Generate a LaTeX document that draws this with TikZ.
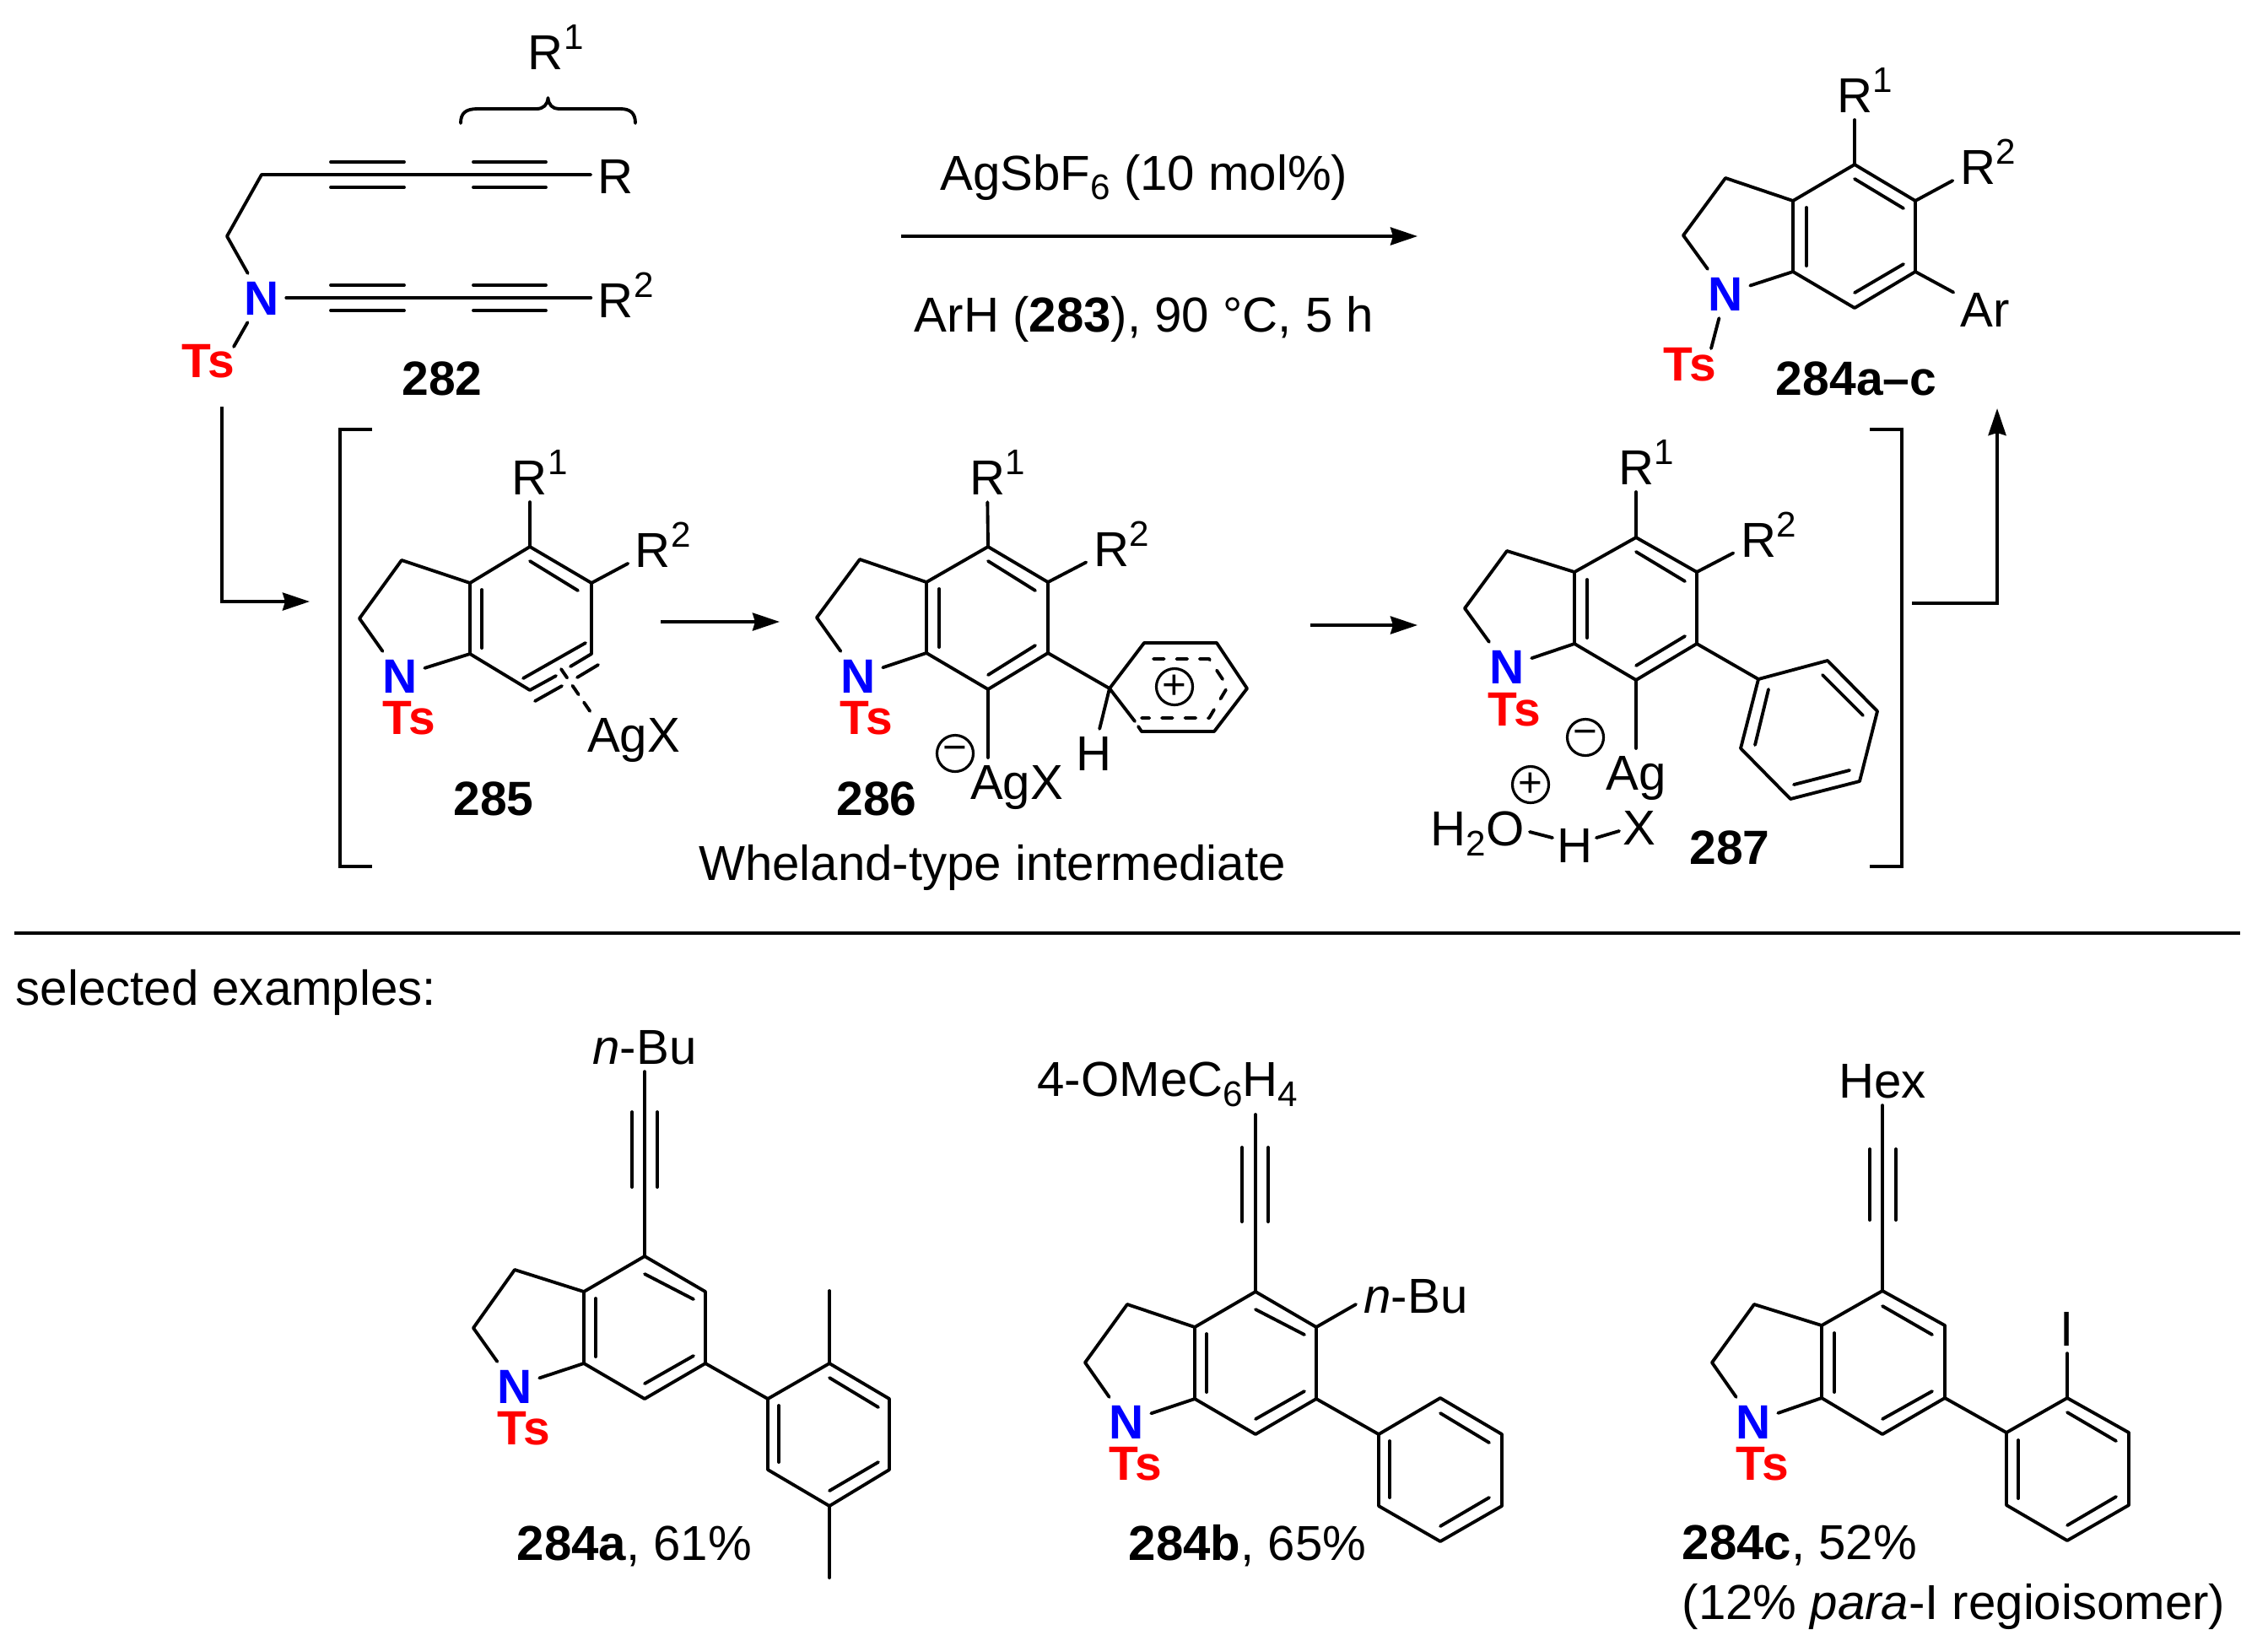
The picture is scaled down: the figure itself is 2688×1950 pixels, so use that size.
\documentclass[tikz,border=0pt]{standalone}
\usepackage{fontspec}
\setmainfont{Liberation Sans}
\usetikzlibrary{arrows.meta}
\newcommand{\chemsize}{\fontsize{16.55}{19}\selectfont}
\newcommand{\boldsize}{\fontsize{16.2}{19}\selectfont\bfseries}
\newcommand{\chemsup}[1]{\rlap{\raisebox{6.9pt}{\fontsize{12}{12}\selectfont #1}}}
\newcommand{\chemsub}[1]{\raisebox{-3.3pt}{\fontsize{12}{12}\selectfont #1}}
\tikzset{
  bond/.style={line width=1.1pt, line cap=round, line join=round},
  arr/.style={line width=1.1pt, -{Stealth[length=0.32cm, width=0.21cm, inset=0.03cm]}},
  atom/.style={inner sep=0.08cm, font=\chemsize, text height=11.6pt, text depth=0pt},
  nit/.style={atom, font=\boldsize, text=blue},
  tos/.style={atom, font=\boldsize, text=red},
  cmpd/.style={atom, font=\boldsize},
  txt/.style={inner sep=0pt, font=\chemsize, anchor=base},
  txtl/.style={inner sep=0pt, font=\chemsize, anchor=base west},
  chg/.style={circle, draw, line width=0.9pt, minimum size=0.43cm, inner sep=0pt, font=\fontsize{14}{14}\selectfont},
}
\begin{document}
\begin{tikzpicture}[x=0.01cm, y=-0.01cm]
\useasboundingbox (0,0) rectangle (2688,1950);
% diyne 282
\coordinate (m1) at (310,207);
\coordinate (m2) at (269,280);
\node[nit] (nm) at (310,353) {N};
\node[tos] (tsm) at (247,427) {Ts};
\coordinate (tbm) at (277,411);
\node[atom] (rm) at (730,209) {R};
\node[atom] (r2m) at (730,356) {R\chemsup{2}};
\node[atom] (r1m) at (647,62) {R\chemsup{1}};
\node[cmpd] (lm) at (524,448) {282};
\draw[bond] (m1 -| rm.west) -- (m1) -- (m2) -- (nm);
\draw[bond] (nm) -- (nm -| r2m.west);
\draw[bond] (nm) -- (tbm);
\coordinate (w1) at (392,192); \coordinate (w2) at (479,192);
\coordinate (w3) at (392,222); \coordinate (w4) at (479,222);
\coordinate (w5) at (561,192); \coordinate (w6) at (647,192);
\coordinate (w7) at (561,222); \coordinate (w8) at (647,222);
\draw[bond] (w1) -- (w2); \draw[bond] (w3) -- (w4);
\draw[bond] (w5) -- (w6); \draw[bond] (w7) -- (w8);
\coordinate (v1) at (392,338); \coordinate (v2) at (479,338);
\coordinate (v3) at (392,368); \coordinate (v4) at (479,368);
\coordinate (v5) at (561,338); \coordinate (v6) at (647,338);
\coordinate (v7) at (561,368); \coordinate (v8) at (647,368);
\draw[bond] (v1) -- (v2); \draw[bond] (v3) -- (v4);
\draw[bond] (v5) -- (v6); \draw[bond] (v7) -- (v8);
\draw[bond] (546,146) .. controls (546,134) and (552,129) .. (566,129) -- (636,129)
  .. controls (644,129) and (649,124) .. (649.5,116)
  .. controls (650,124) and (655,129) .. (662,129) -- (735,129)
  .. controls (747,129) and (753,134) .. (753,146);
% conditions
\coordinate (as) at (1068,280);
\coordinate (ae) at (1680,280);
\draw[arr] (as) -- (ae);
\node[txt] (cond1) at (1356,225) {AgSbF\chemsub{6} (10 mol\%)};
\node[txt] (cond2) at (1356,393) {ArH (\textbf{283}), 90 °C, 5 h};
% product 284
\coordinate (p1) at (2198,195);
\coordinate (p2) at (2270,238);
\coordinate (p3) at (2270,322);
\coordinate (p4) at (2198,365);
\coordinate (p5) at (2125,322);
\coordinate (p6) at (2125,238);
\coordinate (p7) at (2045,211);
\coordinate (p8) at (1995,279);
\node[nit] (np) at (2045,348) {N};
\node[tos] (tsp) at (2003,431) {Ts};
\coordinate (tbp) at (2028,413);
\node[atom] (r1p) at (2198,113) {R\chemsup{1}};
\node[atom] (r2p) at (2344,198) {R\chemsup{2}};
\node[atom] (arp) at (2353,367) {Ar};
\node[cmpd] (lp) at (2200,448) {284a–c};
\draw[bond] (np) -- (p8) -- (p7) -- (p6) -- (p1) -- (p2) -- (p3) -- (p4) -- (p5) -- (p6);
\draw[bond] (p5) -- (np);
\draw[bond] (np) -- (tbp);
\draw[bond] (p1) -- (r1p);
\draw[bond] (p2) -- (r2p);
\draw[bond] (p3) -- (arp);
\coordinate (pi1) at (2141,246); \coordinate (pi2) at (2141,315);
\coordinate (pi3) at (2198,212); \coordinate (pi4) at (2256,247);
\coordinate (pi5) at (2198,347); \coordinate (pi6) at (2256,313);
\draw[bond] (pi1) -- (pi2); \draw[bond] (pi3) -- (pi4); \draw[bond] (pi5) -- (pi6);
% arrow into brackets
\coordinate (bs) at (263,482);
\coordinate (be) at (367,713);
\draw[arr] (bs) |- (be);
\coordinate (bl1) at (441,509); \coordinate (bl2) at (403,509);
\coordinate (bl3) at (403,1027); \coordinate (bl4) at (441,1027);
\draw[bond, line cap=butt, line join=miter] (bl1) -- (bl2) -- (bl3) -- (bl4);
% 285
\coordinate (q1) at (628,648);
\coordinate (q2) at (701,691);
\coordinate (q3) at (701,775);
\coordinate (q4) at (628,818);
\coordinate (q5) at (557,775);
\coordinate (q6) at (557,691);
\coordinate (q7) at (476,664);
\coordinate (q8) at (426,733);
\node[nit] (nq) at (474,801) {N};
\node[tos] (tsq) at (485,850) {Ts};
\node[atom] (r1q) at (628,566) {R\chemsup{1}};
\node[atom] (r2q) at (774,652) {R\chemsup{2}};
\node[atom] (agq) at (751,871) {AgX};
\node[cmpd] (lq) at (585,946) {285};
\coordinate (qg1) at (676,790);
\coordinate (qg2) at (659,801);
\draw[bond] (nq) -- (q8) -- (q7) -- (q6) -- (q1) -- (q2) -- (q3) -- (qg1);
\draw[bond] (qg2) -- (q4) -- (q5) -- (q6);
\draw[bond] (q5) -- (nq);
\draw[bond] (q1) -- (r1q);
\draw[bond] (q2) -- (r2q);
\coordinate (qi1) at (571,699); \coordinate (qi2) at (571,768);
\coordinate (qi3) at (628,665); \coordinate (qi4) at (685,700);
\coordinate (qi5) at (694,762); \coordinate (qi6) at (620,804);
\coordinate (qo1) at (709,788); \coordinate (qo2) at (684,803);
\coordinate (qo3) at (666,813); \coordinate (qo4) at (634,831);
\draw[bond] (qi1) -- (qi2); \draw[bond] (qi3) -- (qi4); \draw[bond] (qi5) -- (qi6);
\draw[bond] (qo1) -- (qo2); \draw[bond] (qo3) -- (qo4);
\coordinate (qd1) at (665,793);
\coordinate (qd2) at (702,847);
\draw[bond, dash pattern=on 3.6pt off 3.2pt] (qd1) -- (qd2);
\coordinate (ms1) at (783,737);
\coordinate (me1) at (924,737);
\draw[arr] (ms1) -- (me1);
% 286
\coordinate (s1) at (1171,648);
\coordinate (s2) at (1242,690);
\coordinate (s3) at (1242,774);
\coordinate (s4) at (1171,817);
\coordinate (s5) at (1098,774);
\coordinate (s6) at (1098,690);
\coordinate (s7) at (1019,663);
\coordinate (s8) at (968,732);
\node[nit] (ns) at (1017,801) {N};
\node[tos] (tss) at (1027,850) {Ts};
\node[atom] (r1s) at (1170,566) {R\chemsup{1}};
\node[atom] (r2s) at (1317,651) {R\chemsup{2}};
\node[atom] (ags) at (1205,927) {AgX};
\node[atom] (hs) at (1296,893) {H};
\node[cmpd] (ls) at (1039,946) {286};
\node[chg] (mis) at (1132,893) {−};
\draw[bond] (ns) -- (s8) -- (s7) -- (s6) -- (s1) -- (s2) -- (s3) -- (s4) -- (s5) -- (s6);
\draw[bond] (s5) -- (ns);
\draw[bond] (s1) -- (r1s);
\draw[bond] (s2) -- (r2s);
\draw[bond] (s4) -- (s4 |- ags.north);
\coordinate (si1) at (1113,698); \coordinate (si2) at (1113,767);
\coordinate (si3) at (1171,665); \coordinate (si4) at (1227,700);
\coordinate (si5) at (1171,800); \coordinate (si6) at (1227,765);
\draw[bond] (si1) -- (si2); \draw[bond] (si3) -- (si4); \draw[bond] (si5) -- (si6);
\coordinate (h1) at (1315,816);
\coordinate (h2) at (1356,762);
\coordinate (h3) at (1442,762);
\coordinate (h4) at (1478,816);
\coordinate (h5) at (1439,867);
\coordinate (h6) at (1353,867);
\coordinate (hg1) at (1345,855);
\coordinate (hg2) at (1349,861);
\draw[bond] (s3) -- (h1) -- (h2) -- (h3) -- (h4) -- (h5) -- (h6) -- (hg2);
\draw[bond] (hg1) -- (h1) -- (hs);
\coordinate (hd1) at (1367,781);
\coordinate (hd2) at (1433,781);
\coordinate (hd3) at (1455,814);
\coordinate (hd4) at (1433,851);
\coordinate (hd5) at (1353,851);
\draw[bond, dash pattern=on 3.6pt off 4.2pt] (hd1) -- (hd2) -- (hd3) -- (hd4) -- (hd5);
\node[chg] (pls) at (1392,814) {+};
\node[txt] (whel) at (1176,1043) {Wheland-type intermediate};
\coordinate (ms2) at (1553,741);
\coordinate (me2) at (1680,741);
\draw[arr] (ms2) -- (me2);
% 287
\coordinate (t1) at (1939,637);
\coordinate (t2) at (2011,678);
\coordinate (t3) at (2011,763);
\coordinate (t4) at (1939,806);
\coordinate (t5) at (1866,763);
\coordinate (t6) at (1866,678);
\coordinate (t7) at (1786,653);
\coordinate (t8) at (1736,721);
\node[nit] (nt) at (1786,790) {N};
\node[tos] (tst) at (1795,840) {Ts};
\node[atom] (r1t) at (1939,554) {R\chemsup{1}};
\node[atom] (r2t) at (2084,640) {R\chemsup{2}};
\node[atom] (agt) at (1939,916) {Ag};
\node[atom] (xt) at (1943,981) {X};
\node[atom] (ht) at (1866,1002) {H};
\node[atom] (ot) at (1751,982) {H\chemsub{2}O};
\node[cmpd] (lt) at (2050,1004) {287};
\node[chg] (mit) at (1879,874) {−};
\node[chg] (plt) at (1814,930) {+};
\draw[bond] (nt) -- (t8) -- (t7) -- (t6) -- (t1) -- (t2) -- (t3) -- (t4) -- (t5) -- (t6);
\draw[bond] (t5) -- (nt);
\draw[bond] (t1) -- (r1t);
\draw[bond] (t2) -- (r2t);
\draw[bond] (t4) -- (agt);
\coordinate (oh1) at (1813,986); \coordinate (oh2) at (1840,993);
\coordinate (hx1) at (1892,993); \coordinate (hx2) at (1919,985);
\draw[bond] (oh1) -- (oh2); \draw[bond] (hx1) -- (hx2);
\coordinate (ti1) at (1881,687); \coordinate (ti2) at (1881,756);
\coordinate (ti3) at (1939,654); \coordinate (ti4) at (1997,689);
\coordinate (ti5) at (1939,789); \coordinate (ti6) at (1997,754);
\draw[bond] (ti1) -- (ti2); \draw[bond] (ti3) -- (ti4); \draw[bond] (ti5) -- (ti6);
\coordinate (u1) at (2084,805);
\coordinate (u2) at (2166,783);
\coordinate (u3) at (2225,843);
\coordinate (u4) at (2204,926);
\coordinate (u5) at (2122,947);
\coordinate (u6) at (2063,887);
\draw[bond] (t3) -- (u1) -- (u2) -- (u3) -- (u4) -- (u5) -- (u6) -- (u1);
\coordinate (ui1) at (2160,800); \coordinate (ui2) at (2208,848);
\coordinate (ui3) at (2192,913); \coordinate (ui4) at (2126,930);
\coordinate (ui5) at (2096,817); \coordinate (ui6) at (2080,883);
\draw[bond] (ui1) -- (ui2); \draw[bond] (ui3) -- (ui4); \draw[bond] (ui5) -- (ui6);
\coordinate (br1) at (2216,509); \coordinate (br2) at (2254,509);
\coordinate (br3) at (2254,1027); \coordinate (br4) at (2216,1027);
\draw[bond, line cap=butt, line join=miter] (br1) -- (br2) -- (br3) -- (br4);
\coordinate (ls1) at (2266,715);
\coordinate (le1) at (2367,484);
\draw[arr] (ls1) -| (le1);
% rule
\coordinate (ru1) at (17,1106);
\coordinate (ru2) at (2655,1106);
\draw[line width=1.1pt] (ru1) -- (ru2);
\node[txtl] (sel) at (18,1191) {selected examples:};
% 284a
\coordinate (a1) at (764,1489);
\coordinate (a2) at (836,1531);
\coordinate (a3) at (836,1616);
\coordinate (a4) at (764,1658);
\coordinate (a5) at (692,1616);
\coordinate (a6) at (692,1531);
\coordinate (a7) at (610,1505);
\coordinate (a8) at (561,1574);
\node[nit] (na) at (610,1643) {N};
\node[tos] (tsa) at (621,1692) {Ts};
\node[atom] (bua) at (764,1241) {\textit{n}-Bu};
\node[txtl] (la) at (612,1849) {\textbf{284a}, 61\%};
\draw[bond] (na) -- (a8) -- (a7) -- (a6) -- (a1) -- (a2) -- (a3) -- (a4) -- (a5) -- (a6);
\draw[bond] (a5) -- (na);
\draw[bond] (a1) -- (bua);
\coordinate (ta1) at (749,1318); \coordinate (ta2) at (749,1407);
\coordinate (ta3) at (779,1318); \coordinate (ta4) at (779,1407);
\draw[bond] (ta1) -- (ta2); \draw[bond] (ta3) -- (ta4);
\coordinate (ai1) at (706,1539); \coordinate (ai2) at (706,1608);
\coordinate (ai3) at (764,1510); \coordinate (ai4) at (822,1540);
\coordinate (ai5) at (764,1640); \coordinate (ai6) at (822,1607);
\draw[bond] (ai1) -- (ai2); \draw[bond] (ai3) -- (ai4); \draw[bond] (ai5) -- (ai6);
\coordinate (b1) at (910,1658);
\coordinate (b2) at (983,1616);
\coordinate (b3) at (1054,1658);
\coordinate (b4) at (1054,1742);
\coordinate (b5) at (983,1785);
\coordinate (b6) at (910,1742);
\coordinate (me3) at (983,1530);
\coordinate (me4) at (983,1870);
\draw[bond] (a3) -- (b1) -- (b2) -- (b3) -- (b4) -- (b5) -- (b6) -- (b1);
\draw[bond] (b2) -- (me3);
\draw[bond] (b5) -- (me4);
\coordinate (bi1) at (983,1633); \coordinate (bi2) at (1041,1668);
\coordinate (bi3) at (1041,1733); \coordinate (bi4) at (983,1767);
\coordinate (bi5) at (923,1666); \coordinate (bi6) at (923,1733);
\draw[bond] (bi1) -- (bi2); \draw[bond] (bi3) -- (bi4); \draw[bond] (bi5) -- (bi6);
% 284b
\coordinate (c0) at (1488,1321);
\coordinate (c1) at (1488,1531);
\coordinate (c2) at (1560,1573);
\coordinate (c3) at (1560,1658);
\coordinate (c4) at (1488,1700);
\coordinate (c5) at (1416,1658);
\coordinate (c6) at (1416,1573);
\coordinate (c7) at (1336,1546);
\coordinate (c8) at (1286,1615);
\coordinate (c9) at (1607,1546);
\node[nit] (nc) at (1335,1685) {N};
\node[tos] (tsc) at (1346,1734) {Ts};
\node[atom] (omec) at (1384,1279) {4-OMeC\chemsub{6}H\chemsub{4}};
\node[atom] (buc) at (1678,1536) {\textit{n}-Bu};
\node[txtl] (lc) at (1337,1849) {\textbf{284b}, 65\%};
\draw[bond] (nc) -- (c8) -- (c7) -- (c6) -- (c1) -- (c2) -- (c3) -- (c4) -- (c5) -- (c6);
\draw[bond] (c5) -- (nc);
\draw[bond] (c1) -- (c0);
\draw[bond] (c2) -- (c9);
\coordinate (tc1) at (1472,1360); \coordinate (tc2) at (1472,1448);
\coordinate (tc3) at (1503,1360); \coordinate (tc4) at (1503,1448);
\draw[bond] (tc1) -- (tc2); \draw[bond] (tc3) -- (tc4);
\coordinate (ci1) at (1430,1581); \coordinate (ci2) at (1430,1650);
\coordinate (ci3) at (1488,1552); \coordinate (ci4) at (1546,1582);
\coordinate (ci5) at (1488,1682); \coordinate (ci6) at (1546,1649);
\draw[bond] (ci1) -- (ci2); \draw[bond] (ci3) -- (ci4); \draw[bond] (ci5) -- (ci6);
\coordinate (d1) at (1634,1700);
\coordinate (d2) at (1707,1657);
\coordinate (d3) at (1780,1700);
\coordinate (d4) at (1780,1785);
\coordinate (d5) at (1707,1827);
\coordinate (d6) at (1634,1785);
\draw[bond] (c3) -- (d1) -- (d2) -- (d3) -- (d4) -- (d5) -- (d6) -- (d1);
\coordinate (di1) at (1707,1675); \coordinate (di2) at (1765,1710);
\coordinate (di3) at (1765,1775); \coordinate (di4) at (1707,1809);
\coordinate (di5) at (1647,1708); \coordinate (di6) at (1647,1775);
\draw[bond] (di1) -- (di2); \draw[bond] (di3) -- (di4); \draw[bond] (di5) -- (di6);
% 284c
\coordinate (e1) at (2231,1530);
\coordinate (e2) at (2305,1571);
\coordinate (e3) at (2305,1657);
\coordinate (e4) at (2231,1700);
\coordinate (e5) at (2159,1657);
\coordinate (e6) at (2159,1571);
\coordinate (e7) at (2079,1546);
\coordinate (e8) at (2029,1615);
\node[nit] (ne) at (2078,1685) {N};
\node[tos] (tse) at (2089,1734) {Ts};
\node[atom] (hexe) at (2231,1281) {Hex};
\node[atom] (ie) at (2450,1575) {I};
\node[txtl] (le) at (1993,1848) {\textbf{284c}, 52\%};
\node[txtl] (lf) at (1993,1919) {(12\% \textit{para}-I regioisomer)};
\draw[bond] (ne) -- (e8) -- (e7) -- (e6) -- (e1) -- (e2) -- (e3) -- (e4) -- (e5) -- (e6);
\draw[bond] (e5) -- (ne);
\draw[bond] (e1) -- (hexe);
\coordinate (te1) at (2216,1362); \coordinate (te2) at (2216,1446);
\coordinate (te3) at (2247,1362); \coordinate (te4) at (2247,1446);
\draw[bond] (te1) -- (te2); \draw[bond] (te3) -- (te4);
\coordinate (ei1) at (2174,1580); \coordinate (ei2) at (2174,1650);
\coordinate (ei3) at (2231,1548); \coordinate (ei4) at (2290,1582);
\coordinate (ei5) at (2231,1682); \coordinate (ei6) at (2290,1649);
\draw[bond] (ei1) -- (ei2); \draw[bond] (ei3) -- (ei4); \draw[bond] (ei5) -- (ei6);
\coordinate (f1) at (2378,1698);
\coordinate (f2) at (2450,1657);
\coordinate (f3) at (2523,1698);
\coordinate (f4) at (2523,1784);
\coordinate (f5) at (2450,1826);
\coordinate (f6) at (2378,1784);
\draw[bond] (e3) -- (f1) -- (f2) -- (f3) -- (f4) -- (f5) -- (f6) -- (f1);
\draw[bond] (f2) -- (ie);
\coordinate (fi1) at (2450,1674); \coordinate (fi2) at (2508,1708);
\coordinate (fi3) at (2508,1774); \coordinate (fi4) at (2450,1808);
\coordinate (fi5) at (2392,1707); \coordinate (fi6) at (2392,1776);
\draw[bond] (fi1) -- (fi2); \draw[bond] (fi3) -- (fi4); \draw[bond] (fi5) -- (fi6);
\end{tikzpicture}
\end{document}
